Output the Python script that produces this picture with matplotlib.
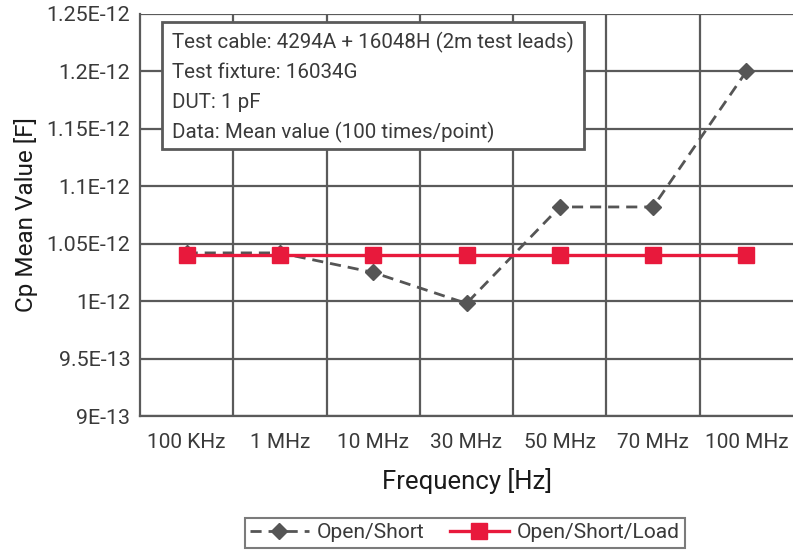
import numpy as np
import matplotlib
matplotlib.use("Agg")
import matplotlib.pyplot as plt
from matplotlib.patches import Rectangle

plt.rcParams['font.family'] = ['Roboto', 'DejaVu Sans']

# data
freqs = ['100 KHz', '1 MHz', '10 MHz', '30 MHz', '50 MHz', '70 MHz', '100 MHz']
open_short = [1.042e-12, 1.042e-12, 1.025e-12, 0.998e-12, 1.082e-12, 1.082e-12, 1.200e-12]
open_short_load = [1.04e-12, 1.04e-12, 1.04e-12, 1.04e-12, 1.04e-12, 1.04e-12, 1.04e-12]
yticks = [9.0e-13, 9.5e-13, 1.0e-12, 1.05e-12, 1.1e-12, 1.15e-12, 1.2e-12, 1.25e-12]
ytick_labels = ['9E-13', '9.5E-13', '1E-12', '1.05E-12', '1.1E-12', '1.15E-12', '1.2E-12', '1.25E-12']
info = ['Test cable: 4294A + 16048H (2m test leads)',
        'Test fixture: 16034G',
        'DUT: 1 pF',
        'Data: Mean value (100 times/point)']

W, H = 793, 550
grid_c = '#5a5a5a'
gray = '#555555'
red = '#e8193c'
txt = '#3a3a3a'

fig = plt.figure(figsize=(W / 100, H / 100), dpi=100)
ax = fig.add_axes([140 / W, 1 - 416 / H, (W - 140) / W, (416 - 14) / H])

x = np.arange(len(freqs))
ax.plot(x, open_short, color=gray, lw=2, ls=(0, (4, 2.5)), marker='D',
        ms=8.5, mfc=gray, mec=gray, label='Open/Short', zorder=3)
ax.plot(x, open_short_load, color=red, lw=2.4, marker='s',
        ms=12, mfc=red, mec=red, label='Open/Short/Load', zorder=4)

ax.set_xlim(-0.5, len(freqs) - 0.5)
ax.set_ylim(yticks[0], yticks[-1])
ax.set_xticks(x)
ax.set_xticklabels(freqs, fontsize=15, color=txt)
ax.set_yticks(yticks)
ax.set_yticklabels(ytick_labels, fontsize=15.4, color=txt)
ax.tick_params(length=0, pad=7)
ax.tick_params(axis='x', pad=12)

# grid: horizontal at ticks, vertical between categories
for yv in yticks:
    ax.axhline(yv, color=grid_c, lw=1.6, zorder=1)
for xv in np.arange(0.5, len(freqs) - 0.5, 1):
    ax.axvline(xv, color=grid_c, lw=1.6, zorder=1)
for s in ['top', 'right']:
    ax.spines[s].set_visible(False)
for s in ['left', 'bottom']:
    ax.spines[s].set_color(grid_c)
    ax.spines[s].set_linewidth(1.6)

ax.set_ylabel('Cp Mean Value [F]', fontsize=17.5, color='#1a1a1a', labelpad=6)
ax.set_xlabel('Frequency [Hz]', fontsize=18.5, color='#1a1a1a', labelpad=12)

# info box
fig.patches.append(Rectangle((162 / W, 1 - 149 / H), (584 - 162) / W, (149 - 22) / H,
                             transform=fig.transFigure, facecolor='white',
                             edgecolor=grid_c, lw=2, zorder=5))
for i, line in enumerate(info):
    fig.text(172 / W, 1 - (42 + i * 30) / H, line, fontsize=14.8, color=txt,
             va='center', ha='left', zorder=6)

leg = fig.legend(loc='center', bbox_to_anchor=(465 / W, 1 - 533 / H), ncol=2,
                 fontsize=15.1, frameon=True, fancybox=False, handlelength=2.8,
                 borderpad=0.25, columnspacing=1.2, handletextpad=0.4)
leg.get_frame().set_edgecolor(grid_c)
leg.get_frame().set_linewidth(1.5)
for t in leg.get_texts():
    t.set_color(txt)

fig.savefig('out.png', dpi=100)
